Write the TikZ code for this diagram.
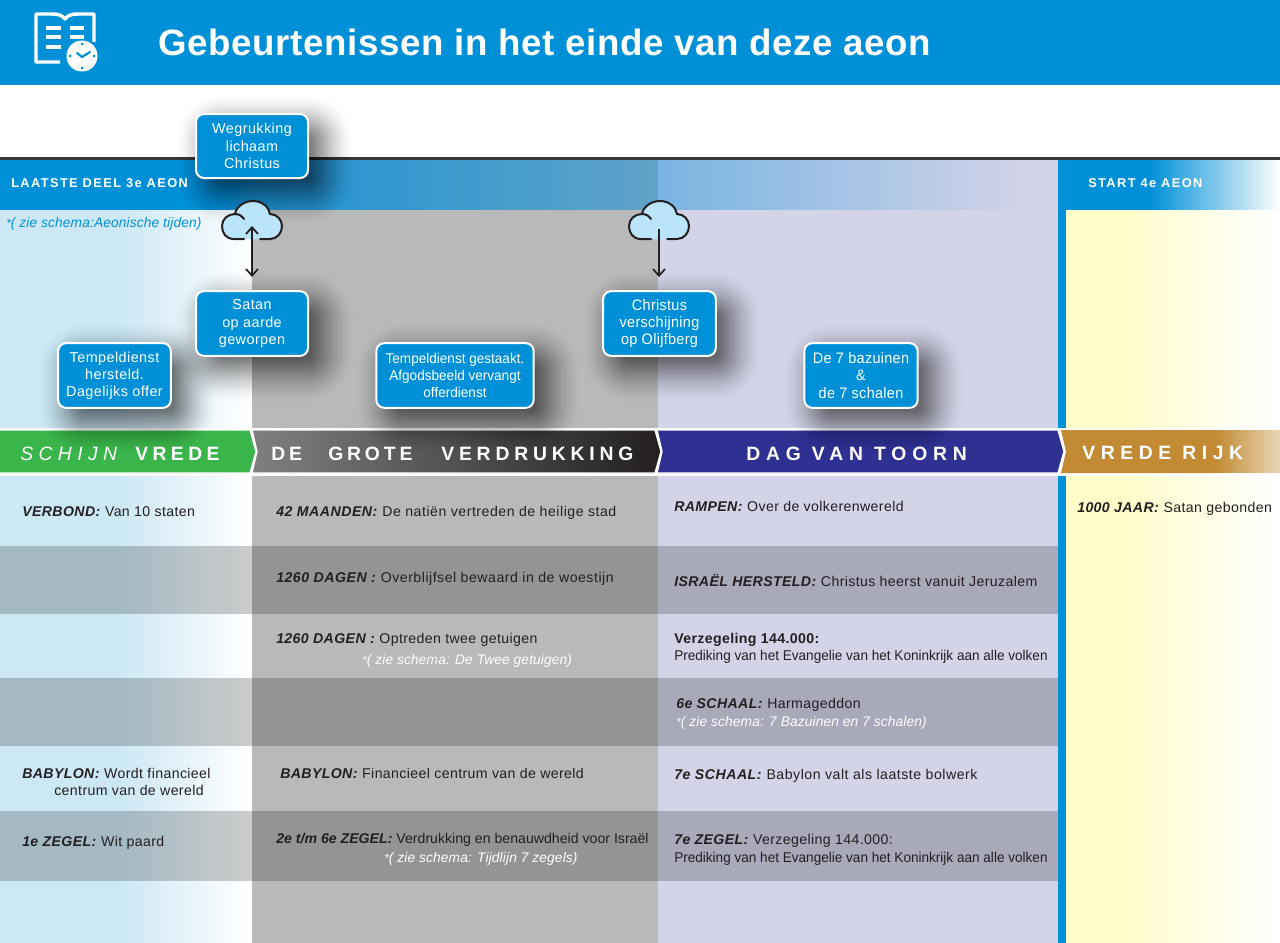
\documentclass[tikz,border=0pt]{standalone}
\usepackage{fontspec}
\setmainfont{Liberation Sans}
\usetikzlibrary{arrows.meta,shapes.geometric}
\definecolor{hblue}{HTML}{0090D7}
\definecolor{ink}{HTML}{231F20}
\definecolor{lblue}{HTML}{CDE8F5}
\definecolor{cgray}{HTML}{B9B9B9}
\definecolor{clav}{HTML}{D3D4E8}
\definecolor{cloudb}{HTML}{B9E4FA}
\definecolor{cyel}{HTML}{FFFDC8}
\definecolor{gold}{HTML}{C28B33}
\definecolor{navy}{HTML}{2E3192}
\definecolor{green}{HTML}{3AB54A}
\definecolor{bandA}{HTML}{1E92D2}
\definecolor{bandB}{HTML}{5FA3C9}
\definecolor{bandC}{HTML}{78B4E2}
\newcommand{\bodyf}{\fontsize{10.6}{13}\selectfont\addfontfeatures{LetterSpace=2.7}}
\newcommand{\bodywf}{\fontsize{10.6}{13}\selectfont\addfontfeatures{LetterSpace=3.6}}
\newcommand{\narrowf}{\fontsize{10.6}{13}\selectfont\addfontfeatures{FakeStretch=0.96}}
\newcommand{\notef}{\fontsize{10.4}{12}\selectfont\itshape\addfontfeatures{FakeStretch=0.99,LetterSpace=1}}
\newcommand{\kw}[1]{\textbf{\textit{#1}}}
\newcommand{\nstar}{{\fontsize{9}{9}\selectfont *}}
\newcommand{\bannerf}[1]{\fontsize{14.5}{16}\selectfont\bfseries\addfontfeatures{LetterSpace=#1}}
\newcommand{\softshadow}[4]{%
  \foreach \e in {32,30,...,-10}{%
    \pgfmathsetmacro{\rr}{max(3,(14+\e)*0.75)}%
    \pgfmathsetmacro{\oo}{0.007+0.0011*(32-\e)}%
    \fill[black,opacity=\oo,rounded corners=\rr pt]
      ({#1+13-\e},{#2+13-\e}) rectangle ({#3+13+\e},{#4+13+\e});%
  }}
\newcommand{\cloudpic}[1]{%
  \begin{scope}[shift={(#1,0)}]
  \fill[cloudb] (-18,239) .. controls (-26,239) and (-30,233) .. (-30,226) .. controls (-30,219) and (-24,214) .. (-17,214) .. controls (-16,207) and (-8,201) .. (1,201) .. controls (10,201) and (17,207) .. (18,214) .. controls (25,214) and (30,220) .. (30,226) .. controls (30,233) and (25,239) .. (18,239) -- cycle;
  \draw[ink,line width=1.5pt,line cap=round] (-8,239) -- (-18,239) .. controls (-26,239) and (-30,233) .. (-30,226) .. controls (-30,219) and (-24,214) .. (-17,214) .. controls (-16,207) and (-8,201) .. (1,201) .. controls (10,201) and (17,207) .. (18,214) .. controls (25,214) and (30,220) .. (30,226) .. controls (30,233) and (25,239) .. (18,239) -- (8,239);
  \draw[ink,line width=1.5pt,line cap=round] (-17,214) .. controls (-13,214) and (-10,216) .. (-8,219);
  \end{scope}}
\tikzset{
  x=0.75pt,y=-0.75pt,
  evbox/.style={draw=white,line width=1.5pt,fill=hblue,rounded corners=6pt,text=white,align=center,inner sep=0pt,
     font=\fontsize{10.8}{12.9}\selectfont\addfontfeatures{LetterSpace=3}},
  evnarrow/.style={font=\fontsize{11.4}{12.9}\selectfont\addfontfeatures{FakeStretch=0.95,LetterSpace=2}},
  bodytext/.style={anchor=west,inner sep=0pt,text=ink,font=\bodyf,yshift=-0.75pt},
  bodywide/.style={bodytext,font=\bodywf},
  smalltext/.style={anchor=west,inner sep=0pt,text=ink,font=\narrowf,yshift=-0.75pt},
  notetext/.style={anchor=west,inner sep=0pt,text=white,font=\notef,yshift=-0.75pt},
  bantext/.style={anchor=west,inner sep=0pt,text=white},
  bandtext/.style={anchor=west,inner sep=0pt,text=white,font=\fontsize{9.6}{12}\selectfont\bfseries\addfontfeatures{LetterSpace=11}},
  arr/.style={ink,line width=1.3pt,-{Straight Barb[length=5pt,width=9pt]}},
  arrb/.style={ink,line width=1.3pt,{Straight Barb[length=5pt,width=9pt]}-{Straight Barb[length=5pt,width=9pt]}},
}
\begin{document}
\begin{tikzpicture}
\useasboundingbox (0,0) rectangle (1280,942);
\fill[white] (0,0) rectangle (1280,942);
% header
\fill[hblue] (0,0) rectangle (1280,85);
% top band
\fill[hblue] (0,159) rectangle (200,212);
\shade[left color=hblue,right color=bandA] (200,159) rectangle (252,212);
\shade[left color=bandA,right color=bandB] (252,159) rectangle (657,212);
\shade[left color=bandC,right color=clav] (657,159) rectangle (1030,212);
\fill[clav] (1030,159) rectangle (1058,212);
\fill[hblue] (1058,159) rectangle (1150,212);
\shade[left color=hblue,right color=white] (1150,159) rectangle (1280,212);
\fill[ink!90] (0,157) rectangle (1280,159.5);
% column backgrounds
\shade[left color=lblue,right color=white] (120,210) rectangle (252,946);
\fill[lblue] (0,210) rectangle (120.5,946);
\fill[cgray] (252,210) rectangle (657,946);
\fill[clav] (657,210) rectangle (1058,946);
\shade[left color=cyel,right color=white] (1120,210) rectangle (1280,946);
\fill[cyel] (1066,210) rectangle (1120.5,946);
\fill[hblue] (1058,210) rectangle (1066,946);
% dark rows
\foreach \ya/\yb in {546/614,678/746,811/881}{
  \fill[black,opacity=0.2] (0,\ya) rectangle (1058,\yb);
}
\fill[black,opacity=0.12] (656.5,159) rectangle (657.5,946);
% white strips around banners
\fill[white] (0,428) rectangle (1280,476);
% banners
\path[left color=gray,right color=ink,draw=white,line width=1pt] (252,430) -- (655,430) -- (661,451.5) -- (655,473) -- (252,473) -- (257,451.5) -- cycle;
\path[fill=navy,draw=white,line width=1pt] (657,430) -- (1058,430) -- (1064,451.5) -- (1058,473) -- (657,473) -- (662,451.5) -- cycle;
\shade[left color=gold,right color=gold!35!white] (1216,429) rectangle (1280,474);
\path[fill=gold] (1061,430) -- (1216.5,430) -- (1216.5,473) -- (1061,473) -- (1066,451.5) -- cycle;
\fill[white] (1216,426) rectangle (1280,430);
\fill[white] (1216,473) rectangle (1280,477);
\path[fill=green,draw=white,line width=1pt] (-2,430) -- (250,430) -- (256,451.5) -- (250,473) -- (-2,473) -- cycle;
% shadows
\softshadow{196}{114}{308}{178}
\softshadow{196}{291}{308}{356}
\softshadow{58}{343}{171}{408}
\softshadow{376}{343}{534}{408}
\softshadow{603}{291}{716}{356}
\softshadow{804}{343}{918}{408}
% clouds and arrows
\cloudpic{252}
\cloudpic{659}
\coordinate (cloudA) at (252,226);
\coordinate (cloudAend) at (252,277);
\coordinate (cloudB) at (659,229);
\coordinate (cloudBend) at (659,277);
\draw[arrb] (cloudA) -- (cloudAend);
\draw[arr] (cloudB) -- (cloudBend);
% event boxes
\node[evbox,minimum width=84pt,minimum height=48pt] (weg) at (252,146) {Wegrukking\\lichaam\\Christus};
\node[evbox,minimum width=84pt,minimum height=48.5pt] (satan) at (252,323.5) {Satan\\op aarde\\geworpen};
\node[evbox,minimum width=84.5pt,minimum height=48.5pt] (temp) at (114.5,375.5) {Tempeldienst\\hersteld.\\Dagelijks offer};
\node[evbox,minimum width=118pt,minimum height=48.5pt,font=\fontsize{10.6}{12.9}\selectfont\addfontfeatures{FakeStretch=0.96}] (gest) at (455,375.5) {Tempeldienst gestaakt.\\Afgodsbeeld vervangt\\offerdienst};
\node[evbox,evnarrow,minimum width=84.5pt,minimum height=48.5pt] (chr) at (659.5,323.5) {Christus\\verschijning\\op Olijfberg};
\node[evbox,evnarrow,minimum width=85pt,minimum height=48.5pt] (baz) at (861,375.5) {De 7 bazuinen\\\&\\de 7 schalen};
% header text
\node[anchor=west,inner sep=0pt,text=white,font=\fontsize{27.5}{30}\selectfont\bfseries\addfontfeatures{LetterSpace=1.7}] (title) at (158,42) {Gebeurtenissen in het einde van deze aeon};
% icon
\begin{scope}[white,line width=2.6pt,line join=round]
\draw (60,62) -- (36,62) -- (36,14) -- (52,14) .. controls (58,14) and (62,15) .. (65,19) .. controls (68,15) and (72,14) .. (78,14) -- (94,14) -- (94,42);
\draw (46,28) -- (61,28) (46,37) -- (61,37) (46,47) -- (61,47) (70,28) -- (84,28) (70,37) -- (84,37);
\fill (82,56) circle (15.5);
\draw[hblue,line width=1.6pt,line cap=round] (77,53) -- (82,57) -- (90,52);
\fill[hblue] (82,44) circle (1.5) (82,68) circle (1.5) (70,56) circle (1.5) (94,56) circle (1.5);
\end{scope}
% band text
\node[bandtext] (b1) at (11,183) {LAATSTE DEEL 3e AEON};
\node[bandtext] (b2) at (1088,183) {START 4e AEON};
\node[anchor=west,inner sep=0pt,text=hblue,font=\notef] (n0) at (6,224) {\nstar( zie schema:Aeonische tijden)};
% banner text
\node[bantext,font=\fontsize{14.5}{16}\selectfont\itshape\addfontfeatures{LetterSpace=28}] (s1) at (20,453.5) {SCHIJN};
\node[bantext,font=\bannerf{23}] (s2) at (135,453.5) {VREDE};
\node[bantext,font=\bannerf{20}] (s3) at (271,453.5) {DE};
\node[bantext,font=\bannerf{20}] (s4) at (328,453.5) {GROTE};
\node[bantext,font=\bannerf{25}] (s5) at (441,453.5) {VERDRUKKING};
\node[bantext,font=\bannerf{30}] (s6) at (746,453.5) {DAG VAN TOORN};
\node[bantext,font=\bannerf{29}] (s7) at (1082,453) {VREDE RIJK};
% column 1
\node[bodytext] (t1) at (22,511) {\kw{VERBOND:} Van 10 staten};
\node[bodytext] (t2) at (22,772) {\kw{BABYLON:} Wordt financieel};
\node[bodytext] (t3) at (54,789) {centrum van de wereld};
\node[bodytext] (t4) at (22,842) {\kw{1e ZEGEL:} Wit paard};
% column 2
\node[bodywide] (t5) at (276,511.5) {\kw{42 MAANDEN:} De natiën vertreden de heilige stad};
\node[bodywide] (t6) at (276,577.5) {\kw{1260 DAGEN :} Overblijfsel bewaard in de woestijn};
\node[bodytext] (t7) at (276,639) {\kw{1260 DAGEN :} Optreden twee getuigen};
\node[notetext] (t8) at (362,660) {\nstar( zie schema: De Twee getuigen)};
\node[bodytext] (t9) at (280,772) {\kw{BABYLON:} Financieel centrum van de wereld};
\node[smalltext,font=\fontsize{10.6}{13}\selectfont\addfontfeatures{FakeStretch=1.0}] (t10) at (276,839) {\kw{2e t/m 6e ZEGEL:} Verdrukking en benauwdheid voor Israël};
\node[notetext] (t11) at (384,858) {\nstar( zie schema: Tijdlijn 7 zegels)};
% column 3
\node[bodytext] (t12) at (674,505) {\kw{RAMPEN:} Over de volkerenwereld};
\node[bodytext] (t13) at (674,580) {\kw{ISRAËL HERSTELD:} Christus heerst vanuit Jeruzalem};
\node[bodytext] (t14) at (674,639) {\textbf{Verzegeling 144.000:}};
\node[smalltext] (t15) at (674,656) {Prediking van het Evangelie van het Koninkrijk aan alle volken};
\node[bodytext] (t16) at (676,704) {\kw{6e SCHAAL:} Harmageddon};
\node[notetext] (t17) at (676,722) {\nstar( zie schema: 7 Bazuinen en 7 schalen)};
\node[bodywide] (t18) at (674,775) {\kw{7e SCHAAL:} Babylon valt als laatste bolwerk};
\node[bodytext] (t19) at (674,840) {\kw{7e ZEGEL:} Verzegeling 144.000:};
\node[smalltext] (t20) at (674,858) {Prediking van het Evangelie van het Koninkrijk aan alle volken};
% column 4
\node[bodytext] (t21) at (1077,508) {\kw{1000 JAAR:} Satan gebonden};
\end{tikzpicture}
\end{document}
